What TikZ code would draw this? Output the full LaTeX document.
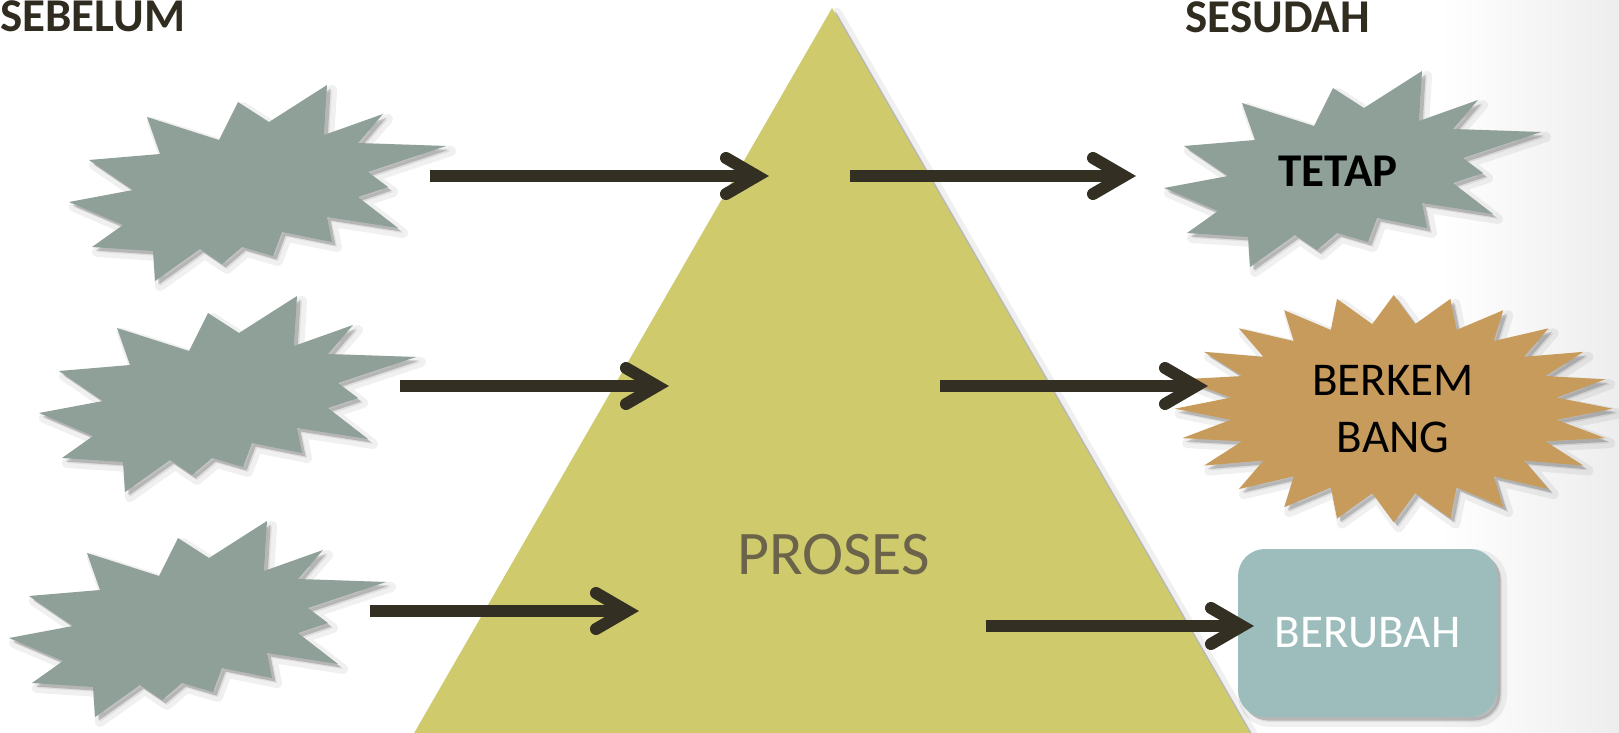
\documentclass[tikz,border=0pt]{standalone}
\usepackage{fontspec}
\setmainfont{Carlito}
\usetikzlibrary{calc}
\definecolor{grayc}{HTML}{8FA099}
\definecolor{tric}{HTML}{CFCB6C}
\definecolor{tanc}{HTML}{C79B5B}
\definecolor{rectc}{HTML}{9DBDBD}
\definecolor{arrowc}{HTML}{332F22}
\definecolor{headc}{HTML}{302C20}
\definecolor{prosc}{HTML}{6B634A}
\tikzset{
  softsh/.style={
    preaction={fill=black, fill opacity=0.07, draw=black, draw opacity=0.06, line width=5pt, line join=round, transform canvas={shift={(2.5pt,-2.5pt)}}},
    preaction={fill=black, fill opacity=0.18, transform canvas={shift={(1.8pt,-1.8pt)}}}},
  shaft/.style={draw=arrowc, line width=6pt, line cap=butt},
  head/.style={draw=arrowc, line width=6pt, line cap=round, line join=miter, miter limit=10},
  headtxt/.style={font=\bfseries\fontsize{23.5}{28}\selectfont, text=headc, inner sep=0pt},
  lbl/.style={font=\fontsize{23.5}{28.5}\selectfont, text=black, inner sep=0pt},
  rectbox/.style={fill=rectc, rounded corners=13.5pt, minimum width=129.5pt, minimum height=84pt, text=white, font=\fontsize{23.5}{28.5}\selectfont, inner sep=0pt, softsh}
}
\newcommand{\explshape}[1]{\fill[#1] (147,117) -- (160,154) -- (89,160) -- (133,190) -- (69,202) -- (123,225) -- (92,247) -- (153,251) -- (155,281) -- (200,249) -- (222,264) -- (242,247) -- (273,256) -- (282,232) -- (332,242) -- (327,217) -- (398,228) -- (358,197) -- (388,187) -- (368,172) -- (446,146) -- (358,143) -- (383,114) -- (324,135) -- (327,85) -- (269,122) -- (238,102) -- (219,140) -- cycle;}
\newcommand{\chev}[2]{\draw[shaft] (#1) -- ([xshift=-6pt]#2);
  \draw[head] ([xshift=-21.5pt,yshift=9pt]#2) -- ([xshift=-6pt]#2) -- ([xshift=-21.5pt,yshift=-9pt]#2);}
\begin{document}
\begin{tikzpicture}[x=0.5pt,y=-0.5pt]
\clip (0,0) rectangle (1619,733);
\fill[white] (0,0) rectangle (1619,733);
\shade[left color=white,right color=black!7] (1440,0) rectangle (1619,733);

% left bursts
\begin{scope}\explshape{grayc,softsh}\end{scope}
\begin{scope}[shift={(-30,211)}]\explshape{grayc,softsh}\end{scope}
\begin{scope}[shift={(-60,436)}]\explshape{grayc,softsh}\end{scope}
% right gray burst
\begin{scope}[shift={(1095,-14)}]\explshape{grayc,softsh}\end{scope}

% 24 point star
\fill[tanc,softsh] (1612.7,408.7) \foreach \k in {0,...,23} { -- ({1393.7+0.75*219*cos(\k*15+7.5)},{408.7-0.75*113.7*sin(\k*15+7.5)}) -- ({1393.7+219*cos(\k*15+15)},{408.7-113.7*sin(\k*15+15)}) } -- cycle;

% triangle
\fill[tric,softsh] (413,735) -- (832,8) -- (1251,735) -- cycle;

% rounded box
\node[rectbox] (berubah) at (1367.5,633) {BERUBAH};

% texts
\node[headtxt, anchor=base west] (sebelum) at (0,32) {SEBELUM};
\node[headtxt, anchor=base west] (sesudah) at (1185,33) {SESUDAH};
\node[lbl, font=\bfseries\fontsize{23.5}{28}\selectfont, anchor=base] (tetap) at (1338,187) {TETAP};
\node[lbl, align=center] (berkem) at (1393,409.5) {BERKEM\\BANG};
\node[font=\fontsize{31}{36}\selectfont, text=prosc, inner sep=0pt, anchor=base] (proses) at (833.5,574) {PROSES};

% arrows
\coordinate (a1s) at (430,176); \coordinate (a1e) at (769,176);
\coordinate (a2s) at (400,386); \coordinate (a2e) at (669,386);
\coordinate (a3s) at (370,611); \coordinate (a3e) at (639,611);
\coordinate (a4s) at (850,176); \coordinate (a4e) at (1136,176);
\coordinate (a5s) at (940,386); \coordinate (a5e) at (1208,386);
\coordinate (a6s) at (986,626); \coordinate (a6e) at (1254,626);
\chev{a1s}{a1e}
\chev{a2s}{a2e}
\chev{a3s}{a3e}
\chev{a4s}{a4e}
\chev{a5s}{a5e}
\chev{a6s}{a6e}
\end{tikzpicture}
\end{document}
